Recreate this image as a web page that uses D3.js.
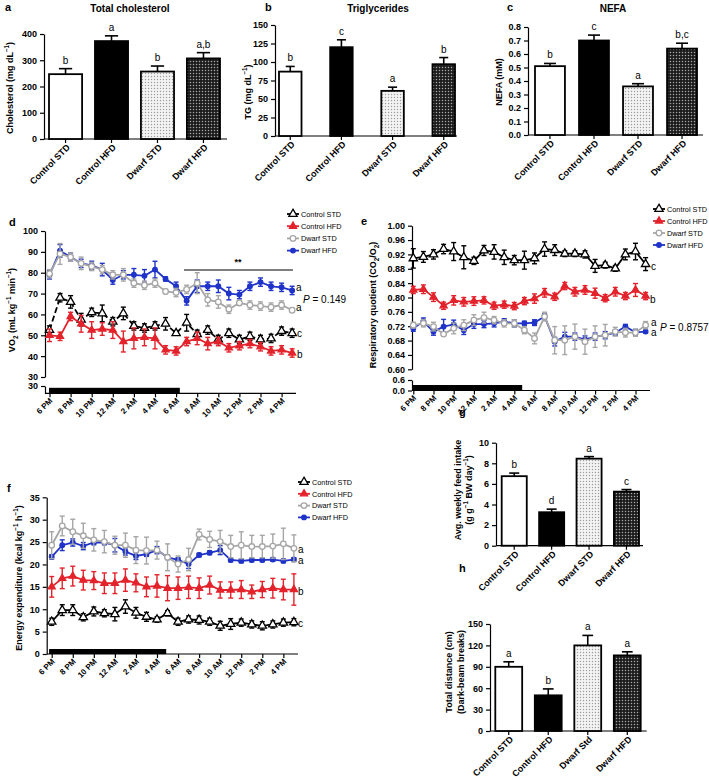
<!DOCTYPE html>
<html><head><meta charset="utf-8">
<script src="https://cdn.jsdelivr.net/npm/d3@7"></script>
<style>
body{margin:0;background:#fff;}
</style></head><body>
<svg id="fig" width="709" height="780"></svg>
<script>
// ---------------- DATA ----------------
const groups = ["Control STD","Control HFD","Dwarf STD","Dwarf HFD"];
const groupsH = ["Control STD","Control HFD","Dwarf Std","Dwarf HFD"];

const cholMean = [247,373,257,307];
const cholErr  = [21,20,21,22];
const cholLetters = ["b","a","b","a,b"];

const tgMean = [87,120,61,97];
const tgErr  = [7,10,5,9];
const tgLetters = ["b","c","a","b"];

const nefaMean = [0.51,0.70,0.36,0.64];
const nefaErr  = [0.02,0.04,0.02,0.04];
const nefaLetters = ["b","c","a","b,c"];

const feedMean = [6.75,3.25,8.45,5.25];
const feedErr  = [0.3,0.3,0.2,0.2];
const feedLetters = ["b","d","a","c"];

const distMean = [90,50,120,106];
const distErr  = [7,9,14,5];
const distLetters = ["a","b","a","a"];

const hourLabels = ["6 PM","7 PM","8 PM","9 PM","10 PM","11 PM","12 AM","1 AM","2 AM","3 AM","4 AM","5 AM",
                    "6 AM","7 AM","8 AM","9 AM","10 AM","11 AM","12 PM","1 PM","2 PM","3 PM","4 PM","5 PM"];

// VO2 (panel d)
const vo2CtrlStd    = [52.5,68,66,57.5,61,60.5,56.5,60.5,54.5,53.5,54.5,55.5,51,56,50.5,52.5,48,51,48,49.5,48,48.5,52,51];
const vo2CtrlStdErr = [2,2,3,3,2,4,2,3,2,2,2,3,1,4,2,2,2,2,2,2,2,2,2,2];
const vo2CtrlHfd    = [50,49.5,59,55.5,52.5,53,52.5,47,48.5,49,48.5,43,42.5,47,48.5,46,47,44,45,46,44.5,42.5,43,41.5];
const vo2CtrlHfdErr = [3,2,2,4,4,3,4,5,5,4,5,2,2,2,3,3,2,2,2,2,2,2,2,2];
const vo2DwStd      = [79.5,89,87.5,84.5,83,81.5,79,79,75,74,75,71,70.5,72,75,67,66,62.5,65.5,64.5,64,63.5,64.5,62];
const vo2DwStdErr   = [2,5,2,3,2,2,2,3,2,2,2,1,2,2,5,3,3,2,1,2,2,2,2,1];
const vo2DwHfd      = [79,90.5,87.5,84.5,83.5,81.5,76.5,79,79,78.5,81.5,77,73.5,66.5,73.5,73.5,73.5,70,69.5,73.5,75.5,73.5,73,71.5];
const vo2DwHfdErr   = [2,3,2,2,2,3,2,2,3,3,4,1,2,2,3,2,3,3,2,2,2,2,2,2];

// RQ (panel e)
const rqCtrlStd    = [0.909,0.913,0.92,0.935,0.928,0.912,0.902,0.931,0.927,0.912,0.904,0.904,0.909,0.935,0.932,0.922,0.922,0.92,0.888,0.89,0.881,0.92,0.928,0.893];
const rqCtrlStdErr = [0.027,0.015,0.013,0.013,0.025,0.032,0.01,0.014,0.02,0.02,0.013,0.025,0.015,0.02,0.015,0.008,0.008,0.01,0.018,0.008,0.008,0.015,0.023,0.018];
const rqCtrlHfd    = [0.821,0.823,0.801,0.777,0.792,0.788,0.79,0.792,0.777,0.78,0.776,0.79,0.797,0.813,0.802,0.832,0.816,0.821,0.812,0.798,0.816,0.804,0.821,0.804];
const rqCtrlHfdErr = [0.01,0.012,0.012,0.01,0.013,0.012,0.012,0.01,0.01,0.01,0.01,0.01,0.013,0.012,0.01,0.01,0.012,0.012,0.014,0.01,0.012,0.01,0.018,0.01];
const rqDwStd      = [0.723,0.728,0.719,0.698,0.714,0.723,0.737,0.744,0.737,0.728,0.728,0.709,0.686,0.747,0.681,0.681,0.691,0.677,0.691,0.695,0.705,0.702,0.702,0.723];
const rqDwStdErr   = [0.008,0.01,0.012,0.006,0.015,0.015,0.015,0.015,0.01,0.01,0.01,0.01,0.015,0.012,0.038,0.04,0.035,0.035,0.03,0.03,0.012,0.012,0.01,0.01];
const rqDwHfd      = [0.714,0.733,0.705,0.719,0.725,0.709,0.726,0.726,0.728,0.733,0.728,0.728,0.73,0.747,0.677,0.691,0.691,0.683,0.691,0.695,0.702,0.719,0.703,0.705];
const rqDwHfdErr   = [0.008,0.01,0.01,0.02,0.012,0.012,0.012,0.01,0.01,0.008,0.01,0.006,0.008,0.008,0.012,0.012,0.01,0.01,0.01,0.01,0.008,0.006,0.008,0.004];

// Energy expenditure (panel f)
const eeCtrlStd    = [7.2,9.8,9.8,8.2,9.5,9.1,8.9,10.6,9.2,8.3,7.7,9.1,7.2,7.7,7.6,7.2,6.3,6.7,7,6.6,6.3,6.6,7,7.1];
const eeCtrlStdErr = [0.8,1.2,1.2,0.8,1,0.8,1.5,1.5,1.2,1,0.6,0.6,0.8,0.8,0.9,0.8,1,1.2,0.8,0.8,0.9,0.8,0.8,0.8];
const eeCtrlHfd    = [15,16.9,17.4,16.5,16.4,15.8,15.8,16.5,15.9,15,15.2,14.7,14.7,14.9,14.7,15.4,14.3,14.3,14.4,13.9,14.4,14.7,14.4,14.4];
const eeCtrlHfdErr = [2.3,2.3,2.2,2.2,2,2.3,2.3,2.5,2,2.2,2.5,2.8,2.5,2.5,2.3,2,1.8,1.8,2,1.5,1.8,2.2,2.3,3.5];
const eeDwStd      = [24.3,28.6,27.3,26.4,25.5,25.1,24.3,24.3,23.2,23.1,23.2,21.6,20.1,21.1,26.7,25.6,25.1,24,24.3,24,24,24.1,24.6,23.6];
const eeDwStdErr   = [3,2.2,2.8,2.8,2.5,2.5,2,2.7,3,3,2,3,1.8,2.5,1.2,1.8,2.5,2.5,3,2.5,2.5,2.7,3.5,3];
const eeDwHfd      = [21.7,24.3,24.9,24.1,24.9,24.9,24.3,22.9,21.9,22.3,23.2,21.6,21,20.1,22.1,22.6,23.2,21,20.8,21,21,21.1,20.8,21.1];
const eeDwHfdErr   = [0.5,1.2,0.8,0.8,0.5,0.5,1.5,0.8,0.8,0.5,0.8,0.5,0.5,1,0.4,0.4,1,0.4,0.4,0.4,0.4,0.4,0.4,0.4];

// dark-phase bars (hours after 6 PM)
const darkD = [0, 12.4];
const darkE = [0, 10.83];
const darkF = [-0.2, 10.92];

// ---------------- STYLE ----------------
const FONT = '"Liberation Sans", Arial, Helvetica, sans-serif';
const RED = "#e3232c", BLUE = "#1f33c9", GRAY = "#a6a6a6";
const SERIES_STYLE = {
  "Control STD": {color:"#000", sym:"tri", fill:"#fff", size:30},
  "Control HFD": {color:RED, sym:"tri", fill:RED, size:22},
  "Dwarf STD":   {color:GRAY, sym:"circ", fill:"#fff", r:2.8},
  "Dwarf HFD":   {color:BLUE, sym:"circ", fill:BLUE, r:2.3}
};

const svg = d3.select("#fig");
svg.append("rect").attr("width",709).attr("height",780).attr("fill","#fff");
const defs = svg.append("defs");
const pL = defs.append("pattern").attr("id","pLight").attr("patternUnits","userSpaceOnUse").attr("width",3).attr("height",3);
pL.append("rect").attr("width",3).attr("height",3).attr("fill","#f3f3f3");
pL.append("circle").attr("cx",1.5).attr("cy",1.5).attr("r",0.7).attr("fill","#9c9c9c");
const pD = defs.append("pattern").attr("id","pDark").attr("patternUnits","userSpaceOnUse").attr("width",3).attr("height",3);
pD.append("rect").attr("width",3).attr("height",3).attr("fill","#1c1c1c");
pD.append("circle").attr("cx",1.5).attr("cy",1.5).attr("r",0.75).attr("fill","#a8a8a8");
const FILLS = ["#fff","#000","url(#pLight)","url(#pDark)"];

function styleAxis(sel, fs){
  sel.selectAll("path,line").attr("stroke","#000").attr("stroke-width",1.2);
  sel.selectAll("text").attr("font-size",fs||9).attr("font-weight","bold").attr("fill","#000").attr("font-family",FONT);
}

function richText(g, x, y, str, fs, opts){
  opts = opts||{};
  const t = g.append("text")
    .attr("transform",`translate(${x},${y})` + (opts.rot? " rotate(-90)":""))
    .attr("text-anchor",opts.anchor||"middle").attr("font-size",fs)
    .attr("font-weight",opts.weight||"bold").attr("font-family",FONT).attr("fill",opts.fill||"#000");
  const parts = str.split(/(\^\{[^}]*\}|_\{[^}]*\})/).filter(s=>s.length);
  let shift = 0;
  parts.forEach(p=>{
    let s = 0, txt = p, small=false;
    if(p.startsWith("^{")){ s = -fs*0.4; txt = p.slice(2,-1); small=true; }
    else if(p.startsWith("_{")){ s = fs*0.28; txt = p.slice(2,-1); small=true; }
    const ts = t.append("tspan").text(txt).attr("dy", s-shift);
    if(small) ts.attr("font-size",fs*0.7);
    shift = s;
  });
  return t;
}

function panelLetter(x,y,l){
  svg.append("text").attr("x",x).attr("y",y).text(l).attr("font-size",11).attr("font-weight","bold").attr("font-family",FONT);
}

// ---------------- BAR PANELS ----------------
function barPanel(o){
  const g = svg.append("g");
  const x = d3.scaleBand().domain(o.cats).range([o.b0,o.b1]).paddingInner(o.pad).paddingOuter(0);
  const y = d3.scaleLinear().domain([0,o.max]).range([o.y0,o.y1]);
  const ya = g.append("g").attr("transform",`translate(${o.ax},0)`)
    .call(d3.axisLeft(y).tickValues(d3.range(0,o.max+o.step*0.5,o.step)).tickFormat(d3.format(o.fmt||"d")).tickSize(4).tickSizeOuter(0));
  styleAxis(ya);
  const xa = g.append("g").attr("transform",`translate(0,${o.y0})`)
    .call(d3.axisBottom(x).tickSize(4).tickSizeOuter(0));
  xa.select(".domain").remove();
  xa.append("line").attr("x1",o.ax).attr("x2",o.axEnd).attr("y1",0).attr("y2",0);
  styleAxis(xa, 9);
  xa.selectAll(".tick text").attr("x",0).attr("y",0).attr("dy",0).attr("text-anchor","end")
    .attr("transform","translate(5,9) rotate(-45)");
  const bw = x.bandwidth();
  o.vals.forEach((v,i)=>{
    const cx = x(o.cats[i]) + bw/2;
    const top = y(v + o.errs[i]);
    g.append("line").attr("x1",cx).attr("x2",cx).attr("y1",y(v)).attr("y2",top).attr("stroke","#000").attr("stroke-width",1.6);
    g.append("line").attr("x1",cx-bw*0.2).attr("x2",cx+bw*0.2).attr("y1",top).attr("y2",top).attr("stroke","#000").attr("stroke-width",1.6);
    g.append("rect").attr("x",x(o.cats[i])).attr("width",bw).attr("y",y(v)).attr("height",o.y0-y(v))
      .attr("fill",FILLS[i]).attr("stroke","#000").attr("stroke-width",1.8);
    g.append("text").attr("x",cx).attr("y",top-5).attr("text-anchor","middle").text(o.letters[i])
      .attr("font-size",10).attr("font-family",FONT);
  });
  if(o.title) g.append("text").attr("x",o.titleX).attr("y",12).attr("text-anchor","middle").text(o.title)
      .attr("font-size",10).attr("font-weight","bold").attr("font-family",FONT);
  o.ylab.forEach((l,k)=> richText(g, o.ylx[k], o.yly, l, 9, {rot:true}));
}

barPanel({cats:groups, vals:cholMean, errs:cholErr, letters:cholLetters, ax:44, y0:139, y1:34, max:400, step:100,
  b0:49, b1:220, pad:0.28, axEnd:227, title:"Total cholesterol", titleX:130, ylab:["Cholesterol (mg dL^{−1})"], ylx:[13], yly:88});
barPanel({cats:groups, vals:tgMean, errs:tgErr, letters:tgLetters, ax:275, y0:136, y1:25, max:150, step:25,
  b0:279, b1:455, pad:0.56, axEnd:457, title:"Triglycerides", titleX:378, ylab:["TG (mg dL^{−1})"], ylx:[251], yly:92});
barPanel({cats:groups, vals:nefaMean, errs:nefaErr, letters:nefaLetters, ax:528, y0:135, y1:27, max:0.8, step:0.1, fmt:".1f",
  b0:535, b1:697, pad:0.32, axEnd:703, title:"NEFA", titleX:613, ylab:["NEFA (mM)"], ylx:[502], yly:82});
barPanel({cats:groups, vals:feedMean, errs:feedErr, letters:feedLetters, ax:496, y0:545.7, y1:442.7, max:10, step:2,
  b0:501.7, b1:639, pad:0.33, axEnd:643, ylab:["Avg. weekly feed intake","(g g^{−1} BW day^{−1})"], ylx:[461,472], yly:490});
barPanel({cats:groupsH, vals:distMean, errs:distErr, letters:distLetters, ax:490, y0:731, y1:624, max:150, step:30,
  b0:495.3, b1:640.7, pad:0.32, axEnd:646.7, ylab:["Total distance (cm)","(Dark-beam breaks)"], ylx:[452,464], yly:672});

panelLetter(5,11,"a"); panelLetter(265,11,"b"); panelLetter(507,11,"c");
panelLetter(9,226,"d"); panelLetter(361,225,"e"); panelLetter(7,492,"f");
panelLetter(459,416,"g"); panelLetter(459,572,"h");

// ---------------- LINE PANELS ----------------
function drawMarker(g, st, cx, cy){
  if(st.sym==="tri"){
    g.append("path").attr("d", d3.symbol(d3.symbolTriangle, st.size)())
      .attr("transform",`translate(${cx},${cy})`).attr("fill",st.fill).attr("stroke",st.color).attr("stroke-width",1.3);
  } else {
    g.append("circle").attr("cx",cx).attr("cy",cy).attr("r",st.r).attr("fill",st.fill).attr("stroke",st.color).attr("stroke-width",1.3);
  }
}

function linePanel(o){
  const g = svg.append("g");
  const x = d3.scaleLinear().domain([0,23]).range([o.x0, o.x0+23*o.dx]);
  const y = d3.scaleLinear().domain(o.dom).range([o.yb,o.yt]);
  const ya = g.append("g").attr("transform",`translate(${o.ax},0)`)
    .call(d3.axisLeft(y).tickValues(o.ticks).tickFormat(d3.format(o.fmt)).tickSize(4).tickSizeOuter(0));
  styleAxis(ya);
  if(o.low){
    const yl = d3.scaleLinear().domain(o.low.dom).range(o.low.range);
    const la = g.append("g").attr("transform",`translate(${o.ax},0)`)
      .call(d3.axisLeft(yl).tickValues(o.low.ticks).tickFormat(d3.format(o.low.fmt)).tickSize(4).tickSizeOuter(0));
    styleAxis(la);
  }
  const xa = g.append("g").attr("transform",`translate(0,${o.xy})`)
    .call(d3.axisBottom(x).tickValues(d3.range(0,23,2)).tickFormat(i=>hourLabels[i]).tickSize(4).tickSizeOuter(0));
  xa.select(".domain").remove();
  xa.append("line").attr("x1",o.ax).attr("x2",o.axEnd).attr("y1",0).attr("y2",0);
  styleAxis(xa, 8);
  xa.selectAll(".tick text").attr("x",0).attr("y",0).attr("dy",0).attr("text-anchor","end")
    .attr("transform","translate(3,8) rotate(-45)");
  g.append("rect").attr("x",x(o.dark[0])-0.5).attr("width",x(o.dark[1])-x(o.dark[0]))
    .attr("y",o.xy-o.barH).attr("height",o.barH).attr("fill","#000");

  o.series.forEach(s=>{
    const st = SERIES_STYLE[s.name];
    const line = d3.line().x((d,i)=>x(i)).y(d=>y(d));
    g.append("path").datum(s.v).attr("d",line).attr("fill","none").attr("stroke",st.color)
      .attr("stroke-width",1.8).attr("stroke-dasharray", s.dash||null);
    s.v.forEach((v,i)=>{
      const cx = x(i), e = s.e[i];
      const yt = y(v+e), yb2 = y(v-e);
      g.append("line").attr("x1",cx).attr("x2",cx).attr("y1",yt).attr("y2",yb2).attr("stroke",st.color).attr("stroke-width",1.4);
      [yt,yb2].forEach(yy=> g.append("line").attr("x1",cx-2.5).attr("x2",cx+2.5).attr("y1",yy).attr("y2",yy).attr("stroke",st.color).attr("stroke-width",1.4));
    });
    s.v.forEach((v,i)=> drawMarker(g, st, x(i), y(v)));
  });

  // legend
  const order = ["Control STD","Control HFD","Dwarf STD","Dwarf HFD"];
  order.forEach((n,k)=>{
    const st = SERIES_STYLE[n];
    const ly = o.leg.y + k*o.leg.dy;
    g.append("line").attr("x1",o.leg.x).attr("x2",o.leg.x+12).attr("y1",ly).attr("y2",ly).attr("stroke",st.color).attr("stroke-width",1.8);
    drawMarker(g, st, o.leg.x+6, ly);
    g.append("text").attr("x",o.leg.x+14).attr("y",ly+2.7).text(n).attr("font-size",7.3).attr("font-family",FONT).attr("fill","#000");
  });
  o.notes.forEach(nt=>{
    richText(g, nt.x, nt.y, nt.t, 10, {anchor:"start", weight:"normal"});
  });
  richText(g, o.ylx, o.yly, o.ylab, 9, {rot:true});
  return {g,x,y};
}

const pd = linePanel({
  x0:49.5, dx:10.55, dom:[30,100], yb:377, yt:231, ax:45, xy:393.3, axEnd:296,
  ticks:d3.range(30,101,10), fmt:"d", low:{dom:[0,30], range:[393.3,386], ticks:[30], fmt:"d"},
  dark:darkD, barH:5.5,
  series:[
    {name:"Dwarf HFD", v:vo2DwHfd, e:vo2DwHfdErr},
    {name:"Dwarf STD", v:vo2DwStd, e:vo2DwStdErr},
    {name:"Control STD", v:vo2CtrlStd, e:vo2CtrlStdErr, dash:"6,3"},
    {name:"Control HFD", v:vo2CtrlHfd, e:vo2CtrlHfdErr}
  ],
  leg:{x:287, y:214, dy:12.2},
  notes:[{x:296,y:291,t:"a"},{x:296,y:311,t:"a"},{x:297,y:337,t:"c"},{x:297,y:358,t:"b"}],
  ylab:"VO_{2} (mL kg^{−1} min^{−1})", ylx:15, yly:310
});
// significance bar
pd.g.append("line").attr("x1",184).attr("x2",293).attr("y1",270).attr("y2",270).attr("stroke","#000").attr("stroke-width",1.2);
pd.g.append("text").attr("x",238).attr("y",265).attr("text-anchor","middle").text("**").attr("font-size",9).attr("font-weight","bold").attr("font-family",FONT);
const pdP = pd.g.append("text").attr("x",303).attr("y",303).attr("font-size",10).attr("font-family",FONT);
pdP.append("tspan").text("P").attr("font-style","italic"); pdP.append("tspan").text(" = 0.149");

const pe = linePanel({
  x0:413.3, dx:10.1, dom:[0.6,1.0], yb:369.3, yt:225.7, ax:412, xy:390.5, axEnd:650,
  ticks:d3.range(15,26).map(v=>v*0.04), fmt:".2f", low:{dom:[0,0.6], range:[390.5,380], ticks:[0,0.6], fmt:".1f"},
  dark:darkE, barH:5.5,
  series:[
    {name:"Dwarf HFD", v:rqDwHfd, e:rqDwHfdErr},
    {name:"Dwarf STD", v:rqDwStd, e:rqDwStdErr},
    {name:"Control STD", v:rqCtrlStd, e:rqCtrlStdErr},
    {name:"Control HFD", v:rqCtrlHfd, e:rqCtrlHfdErr}
  ],
  leg:{x:653, y:209, dy:12},
  notes:[{x:651,y:270,t:"c"},{x:650,y:303,t:"b"},{x:651,y:326,t:"a"},{x:651,y:336,t:"a"}],
  ylab:"Respiratory quotient (CO_{2}/O_{2})", ylx:376, yly:305
});
const peP = pe.g.append("text").attr("x",660).attr("y",331).attr("font-size",10).attr("font-family",FONT);
peP.append("tspan").text("P").attr("font-style","italic"); peP.append("tspan").text(" = 0.8757");

linePanel({
  x0:51.7, dx:10.53, dom:[0,35], yb:654, yt:497.3, ax:46.7, xy:654, axEnd:298,
  ticks:d3.range(0,36,5), fmt:"d", low:null,
  dark:darkF, barH:5,
  series:[
    {name:"Dwarf HFD", v:eeDwHfd, e:eeDwHfdErr},
    {name:"Dwarf STD", v:eeDwStd, e:eeDwStdErr},
    {name:"Control STD", v:eeCtrlStd, e:eeCtrlStdErr},
    {name:"Control HFD", v:eeCtrlHfd, e:eeCtrlHfdErr}
  ],
  leg:{x:298, y:482, dy:11.8},
  notes:[{x:298,y:553,t:"a"},{x:298,y:564,t:"a"},{x:298,y:595,t:"b"},{x:298,y:627,t:"c"}],
  ylab:"Energy expenditure (kcal kg^{−1} h^{−1})", ylx:22, yly:578
});
</script>
</body></html>
